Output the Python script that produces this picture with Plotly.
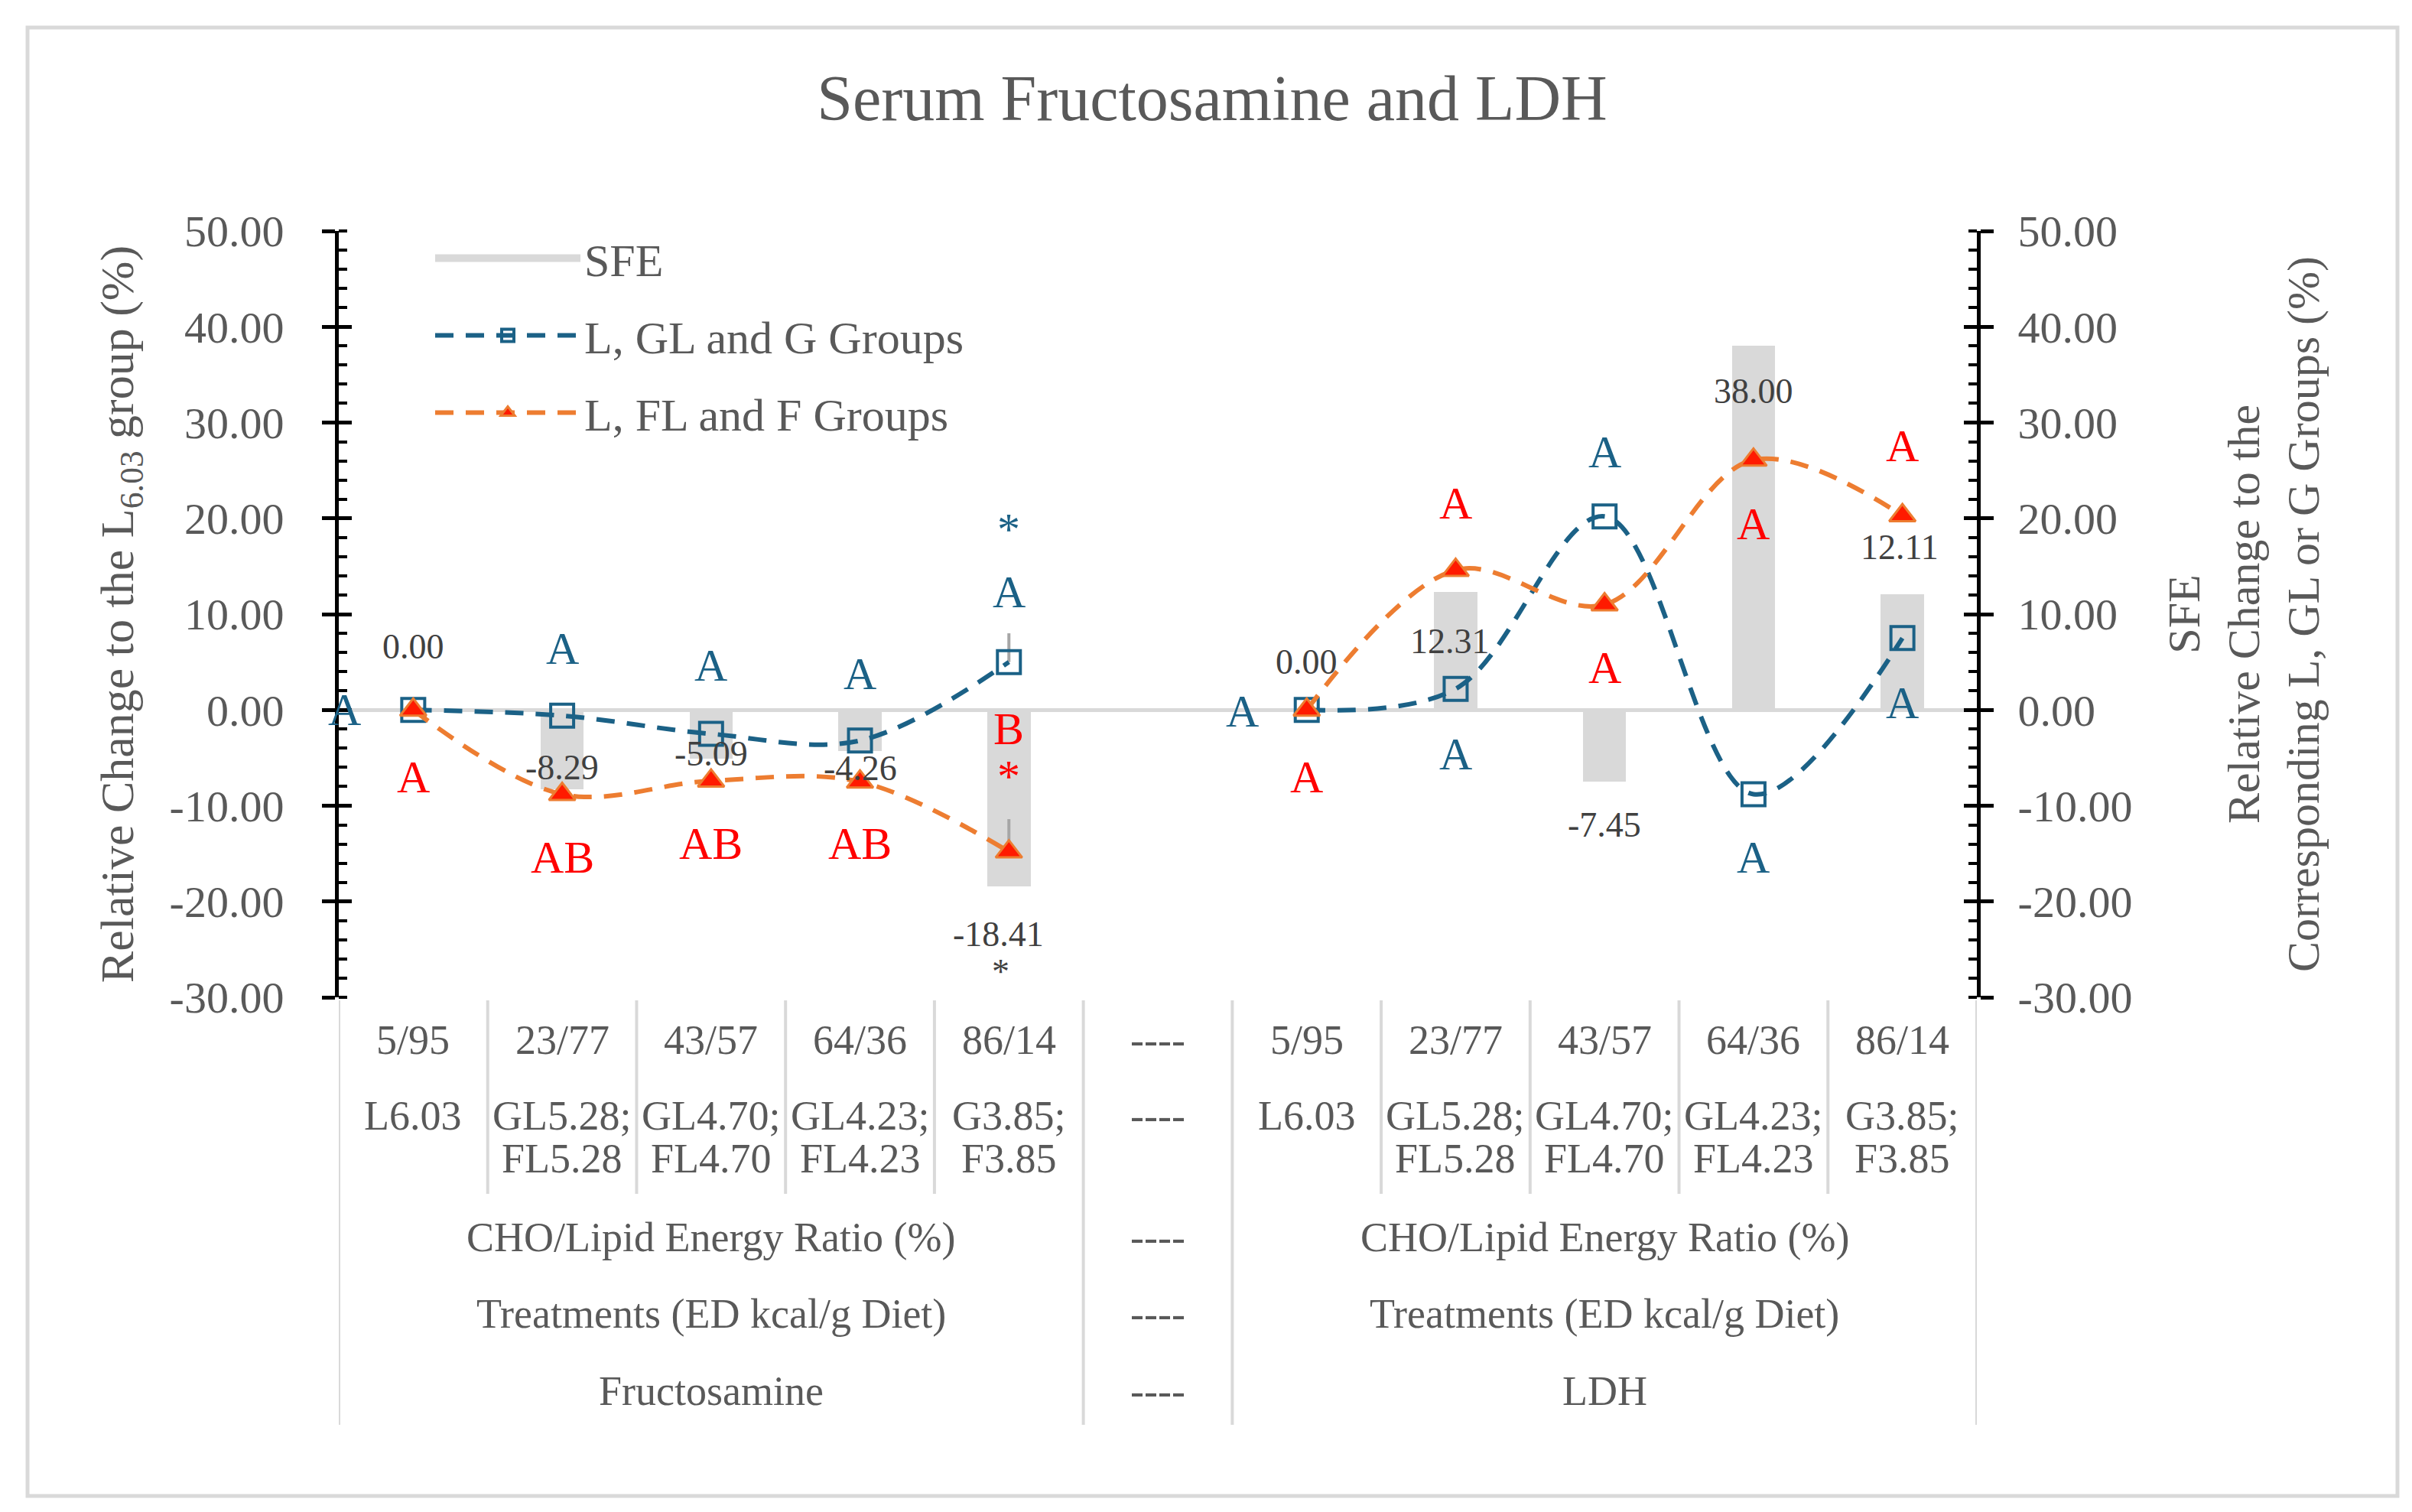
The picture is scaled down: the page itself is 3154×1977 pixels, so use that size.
import plotly.graph_objects as go

# ---------------- data ----------------
groups = ["Fructosamine", "LDH"]
ratio_labels = ["5/95", "23/77", "43/57", "64/36", "86/14"]
treat_line1 = ["L6.03", "GL5.28;", "GL4.70;", "GL4.23;", "G3.85;"]
treat_line2 = ["", "FL5.28", "FL4.70", "FL4.23", "F3.85"]
row3_label = "CHO/Lipid Energy Ratio (%)"
row4_label = "Treatments (ED kcal/g Diet)"
gap_label = "----"

sfe_fruct = [0.00, -8.29, -5.09, -4.26, -18.41]
sfe_ldh = [0.00, 12.31, -7.45, 38.00, 12.11]
glg_fruct = [0.0, -0.6, -2.5, -3.2, 5.0]
glg_ldh = [0.0, 2.2, 20.2, -8.8, 7.5]
flf_fruct = [0.0, -8.8, -7.4, -7.5, -14.8]
flf_ldh = [0.0, 14.6, 11.0, 26.1, 20.3]
glg_fruct_err = [0, 0, 0, 0, 3.0]
flf_fruct_err = [0, 0, 0, 0, 3.4]
glg_ldh_err = [0, 0, 0, 0, 0]
flf_ldh_err = [0, 0, 0, 0, 0]

glg_letters_fruct = ["A", "A", "A", "A", "A"]
flf_letters_fruct = ["A", "AB", "AB", "AB", "B"]
glg_letters_ldh = ["A", "A", "A", "A", "A"]
flf_letters_ldh = ["A", "A", "A", "A", "A"]
glg_star_fruct = ["", "", "", "", "*"]
flf_star_fruct = ["", "", "", "", "*"]
sfe_star_fruct = ["", "", "", "", "*"]

y_ticks = [-30, -20, -10, 0, 10, 20, 30, 40, 50]

# ---------------- label placement (styling) ----------------
glg_lab_y_fruct = [0.0, 6.4, 4.65, 3.8, 12.3]
glg_lab_dx_fruct = [-0.46, 0, 0, 0, 0]
flf_lab_y_fruct = [-7.0, -15.4, -13.95, -13.95, -2.0]
glg_star_y_fruct = 18.9
flf_star_y_fruct = -6.9
sfe_lab_y_fruct = [6.6, -6.0, -4.6, -6.1, -23.4]
sfe_lab_dx_fruct = [0, 0, 0, 0, -0.07]
sfe_star_y_fruct = -27.3
glg_lab_y_ldh = [-0.1, -4.6, 26.9, -15.4, 0.7]
glg_lab_dx_ldh = [-0.43, 0, 0, 0, 0]
flf_lab_y_ldh = [-7.0, 21.6, 4.4, 19.4, 27.6]
sfe_lab_y_ldh = [5.0, 7.2, -12.0, 33.3, 17.0]
sfe_lab_dx_ldh = [0, -0.04, 0, 0, -0.02]

# ---------------- geometry ----------------
W, H = 3154, 1977
L_M, R_M, T_M, B_M = 435, 577, 294, 681
PLOT_W = W - L_M - R_M
PLOT_H = H - T_M - B_M
PLOT_BOTTOM = H - B_M


def py(pix):
    return (PLOT_BOTTOM - pix) / PLOT_H


def px(pix):
    return (pix - L_M) / PLOT_W


FONT = "Liberation Serif"
GRAY = "#595959"
DARK = "#404040"
BLUE = "#1B6186"
ORANGE = "#ED7D31"
LIGHT = "#D9D9D9"
RED = "#FF0000"

n = len(ratio_labels)
fr_x = list(range(n))
gap_x = n
ld_x = [n + 1 + i for i in range(n)]
all_x = fr_x + [gap_x] + ld_x


def join(a, b):
    return list(a) + [None] + list(b)


fig = go.Figure()

# legend proxy for the SFE bars (wide grey swatch like the original)
fig.add_trace(go.Scatter(x=[None], y=[None], name="SFE", mode="lines",
                         line=dict(color=LIGHT, width=24), legendgroup="a", hoverinfo="skip"))

fig.add_trace(go.Bar(
    x=all_x, y=join(sfe_fruct, sfe_ldh), name="SFE", showlegend=False,
    marker=dict(color=LIGHT, line=dict(width=0)), width=0.29,
    legendgroup="a", hoverinfo="skip"))

fig.add_trace(go.Scatter(
    x=all_x, y=join(glg_fruct, glg_ldh), name="L, GL and G Groups",
    yaxis="y2", mode="lines+markers", connectgaps=False,
    line=dict(color=BLUE, width=6, dash="24px,16px", shape="spline", smoothing=1),
    marker=dict(symbol="square-open", size=30, color=BLUE, line=dict(width=4, color=BLUE)),
    error_y=dict(type="data", symmetric=False, array=join(glg_fruct_err, glg_ldh_err),
                 arrayminus=[0] * len(all_x), color="#A6A6A6", thickness=4, width=0),
    legendgroup="b", hoverinfo="skip"))

fig.add_trace(go.Scatter(
    x=all_x, y=join(flf_fruct, flf_ldh), name="L, FL and F Groups",
    yaxis="y2", mode="lines+markers", connectgaps=False,
    line=dict(color=ORANGE, width=6, dash="24px,16px", shape="spline", smoothing=1),
    marker=dict(symbol="triangle-up", size=30, color="#FF1A00", line=dict(width=3, color=ORANGE)),
    error_y=dict(type="data", symmetric=False, array=join(flf_fruct_err, flf_ldh_err),
                 arrayminus=[0] * len(all_x), color="#A6A6A6", thickness=4, width=0),
    legendgroup="c", hoverinfo="skip"))

# invisible traces to instantiate tick-overlay axes (crossing major ticks)
fig.add_trace(go.Scatter(x=[None], y=[None], yaxis="y3", showlegend=False, hoverinfo="skip"))
fig.add_trace(go.Scatter(x=[None], y=[None], yaxis="y4", showlegend=False, hoverinfo="skip"))

ann = []


def txt(x, y, t, color, size, xref="x", yref="y2", **kw):
    if t == "":
        return
    ann.append(dict(x=x, y=y, xref=xref, yref=yref, text=t, showarrow=False,
                    font=dict(family=FONT, size=size, color=color), **kw))


LET = 60
for i in range(n):
    txt(fr_x[i] + glg_lab_dx_fruct[i], glg_lab_y_fruct[i], glg_letters_fruct[i], BLUE, LET)
    txt(fr_x[i], flf_lab_y_fruct[i], flf_letters_fruct[i], RED, LET)
    txt(fr_x[i], glg_star_y_fruct, glg_star_fruct[i], BLUE, LET)
    txt(fr_x[i], flf_star_y_fruct, flf_star_fruct[i], RED, LET)
    txt(fr_x[i] + sfe_lab_dx_fruct[i], sfe_lab_y_fruct[i], f"{sfe_fruct[i]:.2f}", DARK, 46)
    txt(fr_x[i] - 0.055, sfe_star_y_fruct, sfe_star_fruct[i], DARK, 46)
    txt(ld_x[i] + glg_lab_dx_ldh[i], glg_lab_y_ldh[i], glg_letters_ldh[i], BLUE, LET)
    txt(ld_x[i], flf_lab_y_ldh[i], flf_letters_ldh[i], RED, LET)
    txt(ld_x[i] + sfe_lab_dx_ldh[i], sfe_lab_y_ldh[i], f"{sfe_ldh[i]:.2f}", DARK, 46)

# category table below the plot
TF = 54
ROW1, ROW2A, ROW2B, ROW3, ROW4, ROW5 = 1384, 1483, 1539, 1642, 1742, 1843
for block in (fr_x, ld_x):
    for i, xv in enumerate(block):
        txt(xv, py(ROW1), ratio_labels[i], GRAY, TF, yref="paper")
        txt(xv, py(ROW2A), treat_line1[i], GRAY, TF, yref="paper")
        txt(xv, py(ROW2B), treat_line2[i], GRAY, TF, yref="paper")
    mid = (block[0] + block[-1]) / 2
    txt(mid, py(ROW3), row3_label, GRAY, TF, yref="paper")
    txt(mid, py(ROW4), row4_label, GRAY, TF, yref="paper")
for g, block in zip(groups, (fr_x, ld_x)):
    txt((block[0] + block[-1]) / 2, py(ROW5), g, GRAY, TF, yref="paper")
for r in (ROW1, ROW2A, ROW3, ROW4, ROW5):
    txt(gap_x, py(r), gap_label, GRAY, TF, yref="paper")

shapes = []
long_b = {-0.5, gap_x - 0.5, gap_x + 0.5, ld_x[-1] + 0.5}
for k in range(len(all_x) + 1):
    b = k - 0.5
    if b in long_b:
        y_end = 1855
    elif gap_x - 0.5 < b < gap_x + 0.5:
        continue
    else:
        y_end = 1553
    shapes.append(dict(type="line", xref="x", yref="paper", x0=b, x1=b,
                       y0=py(1300), y1=py(y_end), line=dict(color=LIGHT, width=4)))
# outer chart border
shapes.append(dict(type="rect", xref="paper", yref="paper", x0=px(28), x1=px(3127),
                   y0=py(1948), y1=py(28), line=dict(color=LIGHT, width=5), layer="below"))

yrange = [-30, 50]
tick_text = [f"{v:.2f}" for v in y_ticks]
tickfont = dict(family=FONT, size=58, color=GRAY)
common_y = dict(range=yrange, tickmode="array", tickvals=y_ticks, ticktext=tick_text,
                showgrid=False, showline=True, linecolor="black", linewidth=5,
                ticks="outside", ticklen=17, tickwidth=5, tickcolor="black",
                minor=dict(ticks="inside", ticklen=11, tickwidth=4, tickcolor="black",
                           dtick=2, tick0=0, showgrid=False),
                tickfont=tickfont)

fig.update_layout(
    width=W, height=H, autosize=False,
    margin=dict(l=L_M, r=R_M, t=T_M, b=B_M),
    paper_bgcolor="white", plot_bgcolor="white",
    title=dict(text="Serum Fructosamine and LDH", x=0.5, xref="container",
               y=1 - 120 / H, yref="container", xanchor="center", yanchor="middle",
               font=dict(family=FONT, size=84, color=GRAY)),
    xaxis=dict(range=[-0.5, len(all_x) - 0.5], showticklabels=False, showgrid=False,
               zeroline=False, showline=False, ticks=""),
    yaxis=dict(**common_y, side="left", zeroline=True, zerolinecolor=LIGHT, zerolinewidth=5,
               ticklabelstandoff=38,
               title=dict(text="Relative Change to the L<sub>6.03</sub> group (%)",
                          font=dict(family=FONT, size=62, color=GRAY), standoff=28)),
    yaxis2=dict(**common_y, side="right", overlaying="y", zeroline=False,
                ticklabelstandoff=20,
                title=dict(text="SFE<br>Relative Change to the<br>Corresponding L, GL or G Groups (%)",
                           font=dict(family=FONT, size=60, color=GRAY), standoff=48)),
    yaxis3=dict(range=yrange, tickmode="array", tickvals=y_ticks, overlaying="y", side="left",
                showgrid=False, zeroline=False, showline=False, showticklabels=False,
                ticks="inside", ticklen=17, tickwidth=5, tickcolor="black"),
    yaxis4=dict(range=yrange, tickmode="array", tickvals=y_ticks, overlaying="y", side="right",
                showgrid=False, zeroline=False, showline=False, showticklabels=False,
                ticks="inside", ticklen=17, tickwidth=5, tickcolor="black"),
    legend=dict(x=px(556), y=py(284), xanchor="left", yanchor="top",
                font=dict(family=FONT, size=60, color=GRAY), bgcolor="rgba(0,0,0,0)",
                traceorder="grouped", tracegroupgap=20, itemwidth=190),
    showlegend=True,
    annotations=ann,
    shapes=shapes,
    bargap=0,
    hovermode=False,
)

fig.write_html("out.html")
